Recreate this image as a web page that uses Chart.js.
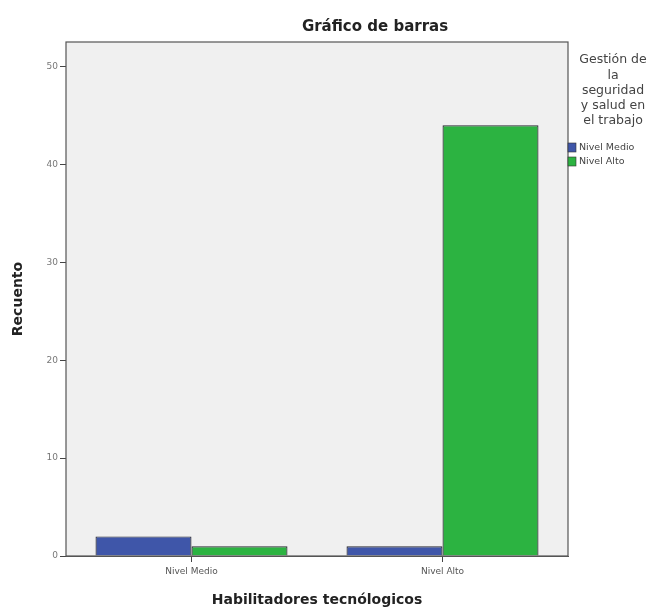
<!DOCTYPE html>
<html>
<head>
<meta charset="utf-8">
<script src="https://cdn.jsdelivr.net/npm/chart.js@4/dist/chart.umd.min.js"></script>
<style>
  html, body { margin: 0; padding: 0; background: #fff; }
  #wrap { width: 660px; height: 613px; }
</style>
</head>
<body>
<div id="wrap"><canvas id="barChart"></canvas></div>
<script>
// Data
const categories = ['Nivel Medio', 'Nivel Alto'];
const nivelMedio = [2, 1];
const nivelAlto = [1, 44];
const yTicks = [0, 10, 20, 30, 40, 50];
const legendTitle = ['Gestión de', 'la', 'seguridad', 'y salud en', 'el trabajo'];

const FONT = '"DejaVu Sans", Verdana, sans-serif';

// Grey plot background, frame, title and legend
const decorPlugin = {
    id: 'decor',
    beforeDatasetsDraw(chart) {
        const a = chart.chartArea;
        const ctx = chart.ctx;
        ctx.save();
        ctx.fillStyle = '#f0f0f0';
        ctx.fillRect(a.left, a.top, a.right - a.left, a.bottom - a.top);
        ctx.restore();
    },
    afterDraw(chart) {
        const a = chart.chartArea;
        const ctx = chart.ctx;
        ctx.save();
        ctx.strokeStyle = '#555';
        ctx.lineWidth = 1.2;
        ctx.strokeRect(a.left, a.top, a.right - a.left, a.bottom - a.top);

        // chart title
        ctx.fillStyle = '#222';
        ctx.font = 'bold 15px ' + FONT;
        ctx.textAlign = 'center';
        ctx.textBaseline = 'middle';
        ctx.fillText('Gráfico de barras', 375, 27);

        // legend title
        ctx.font = '12.5px ' + FONT;
        ctx.fillStyle = '#444';
        legendTitle.forEach((t, i) => ctx.fillText(t, 613, 60 + i * 15.3));

        // legend entries
        ctx.textAlign = 'left';
        ctx.font = '9.5px ' + FONT;
        chart.data.datasets.forEach((ds, i) => {
            const y = 143 + i * 14;
            ctx.fillStyle = ds.backgroundColor;
            ctx.fillRect(568, y, 8, 9);
            ctx.strokeStyle = '#333';
            ctx.lineWidth = 0.6;
            ctx.strokeRect(568, y, 8, 9);
            ctx.fillStyle = '#444';
            ctx.fillText(ds.label, 579, y + 5);
        });
        ctx.restore();
    }
};

new Chart(document.getElementById('barChart'), {
    type: 'bar',
    data: {
        labels: categories,
        datasets: [{
            label: 'Nivel Medio',
            data: nivelMedio,
            backgroundColor: '#3f56a9',
            borderColor: '#2a2a33',
            borderWidth: 1.2
        }, {
            label: 'Nivel Alto',
            data: nivelAlto,
            backgroundColor: '#2cb341',
            borderColor: '#2a2a33',
            borderWidth: 1.2
        }]
    },
    options: {
        responsive: true,
        maintainAspectRatio: false,
        animation: false,
        layout: {
            padding: { left: 0, top: 42, right: 92, bottom: 0 }
        },
        categoryPercentage: 0.765,
        barPercentage: 1.0,
        plugins: {
            legend: { display: false },
            tooltip: { enabled: false }
        },
        scales: {
            x: {
                grid: {
                    display: true,
                    drawOnChartArea: false,
                    drawTicks: true,
                    tickLength: 6,
                    offset: false,
                    color: '#444'
                },
                border: { display: true, color: '#555' },
                ticks: {
                    color: '#555',
                    font: { family: FONT, size: 9 },
                    padding: 4
                },
                title: {
                    display: true,
                    text: 'Habilitadores tecnólogicos',
                    color: '#222',
                    font: { family: FONT, size: 14, weight: 'bold' },
                    padding: { top: 5, bottom: 4 }
                },
                afterFit(scale) { scale.height = 57; }
            },
            y: {
                min: 0,
                max: 52.5,
                afterBuildTicks(scale) {
                    scale.ticks = yTicks.map(v => ({ value: v }));
                },
                grid: {
                    display: true,
                    drawOnChartArea: false,
                    drawTicks: true,
                    tickLength: 6,
                    color: '#444'
                },
                border: { display: true, color: '#555' },
                ticks: {
                    color: '#777',
                    font: { family: FONT, size: 9 },
                    padding: 2
                },
                title: {
                    display: true,
                    text: 'Recuento',
                    color: '#222',
                    font: { family: FONT, size: 14, weight: 'bold' },
                    padding: { top: 10, bottom: 0 }
                },
                afterFit(scale) { scale.width = 66; }
            }
        }
    },
    plugins: [decorPlugin]
});
</script>
</body>
</html>
